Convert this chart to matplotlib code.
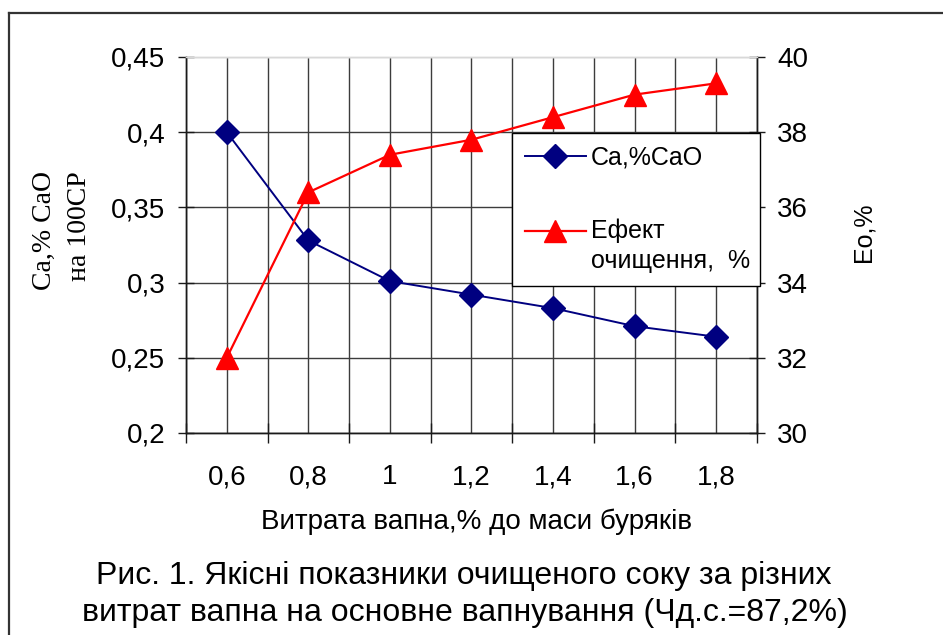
import numpy as np
import matplotlib
matplotlib.use("Agg")
import matplotlib.pyplot as plt
from matplotlib import font_manager as fm
from matplotlib.lines import Line2D
from matplotlib.legend_handler import HandlerLine2D

# ---------------- data ----------------
categories = ["0,6", "0,8", "1", "1,2", "1,4", "1,6", "1,8"]
ca_values = [0.400, 0.328, 0.301, 0.292, 0.283, 0.271, 0.264]
eo_values = [32.0, 36.4, 37.4, 37.8, 38.4, 39.0, 39.3]
left_ticks = [0.2, 0.25, 0.3, 0.35, 0.4, 0.45]
left_tick_labels = ["0,2", "0,25", "0,3", "0,35", "0,4", "0,45"]
right_ticks = [30, 32, 34, 36, 38, 40]
right_tick_labels = ["30", "32", "34", "36", "38", "40"]
ca_label = "Ca,%CaO"
eo_label = "Ефект\nочищення,  %"
xlabel = "Витрата вапна,% до маси буряків"
ylabel_left = ["Ca,% CaO", "на 100СР"]
ylabel_right = "Eo,%"
caption = ["Рис. 1. Якісні показники очищеного соку за різних",
           "витрат вапна на основне вапнування (Чд.с.=87,2%)"]

# ---------------- fonts ----------------
names = {f.name for f in fm.fontManager.ttflist}
NARROW = "Liberation Sans Narrow" if "Liberation Sans Narrow" in names else "Liberation Sans"
SANS = "Liberation Sans"
SERIF = "Liberation Serif"
plt.rcParams["font.family"] = [NARROW, "DejaVu Sans"]

W, H = 943, 635
fig = plt.figure(figsize=(W / 100, H / 100), dpi=100)
fig.patch.set_facecolor("white")

def fx(px):
    return px / W

def fy(py):
    return 1 - py / H

ax_l, ax_r, ax_t, ax_b = 186, 757, 57, 433
ax = fig.add_axes([fx(ax_l), fy(ax_b), fx(ax_r - ax_l), (ax_b - ax_t) / H])
ax2 = ax.twinx()

n = len(categories)
x = np.arange(n)

GRID = "#3c3c3c"
SPINE = "#1a1a1a"

# axes limits / ticks
ax.set_xlim(-0.5, n - 0.5)
ax.set_ylim(left_ticks[0], left_ticks[-1])
ax2.set_ylim(right_ticks[0], right_ticks[-1])

ax.set_xticks(np.arange(n + 1) - 0.5)
ax.set_xticklabels([])
ax.set_xticks(x, minor=True)
ax.set_xticklabels(categories, minor=True)
ax.tick_params(axis="x", which="major", direction="inout", length=15, width=1.0, color=SPINE)
ax.tick_params(axis="x", which="minor", length=0, pad=37, labelsize=20)
for t in ax.get_xticklabels(minor=True):
    t.set_verticalalignment("baseline")

ax.set_yticks(left_ticks)
ax.set_yticklabels(left_tick_labels)
ax.tick_params(axis="y", direction="inout", length=11, width=1.0, color=SPINE, pad=9.5, labelsize=20)
ax.yaxis.set_minor_locator(matplotlib.ticker.NullLocator())

ax2.set_yticks(right_ticks)
ax2.set_yticklabels(right_tick_labels)
ax2.tick_params(axis="y", direction="inout", length=11, width=1.0, color=SPINE, pad=9.0, labelsize=20)

# grid
ax.grid(True, axis="x", which="both", color=GRID, linewidth=1.0)
ax.grid(True, axis="y", which="major", color=GRID, linewidth=1.0)
ax.set_axisbelow(True)
# top gridline light (plot-area border in the original)
for gl, val in zip(ax.yaxis.get_gridlines(), left_ticks):
    if abs(val - left_ticks[-1]) < 1e-9:
        gl.set_color("#d8d8d8")

# spines
for a in (ax, ax2):
    a.spines["top"].set_color("#d8d8d8")
    a.spines["top"].set_linewidth(1.0)
    for s in ("left", "right", "bottom"):
        a.spines[s].set_color(SPINE)
        a.spines[s].set_linewidth(1.0)

# data
l1, = ax.plot(x, ca_values, color="#000080", linewidth=1.4, marker="D",
              markersize=12, markerfacecolor="#000080", markeredgecolor="#000080",
              label=ca_label, zorder=3)
l2, = ax2.plot(x, eo_values, color="#ff0000", linewidth=1.6, marker="^",
               markersize=16, markerfacecolor="#ff0000", markeredgecolor="#ff0000",
               label=eo_label, zorder=3)

# legend (handle of multi-line entry aligned with its first line)
class ShiftedHandler(HandlerLine2D):
    def __init__(self, dy=0.0, **kw):
        super().__init__(**kw)
        self.dy = dy

    def create_artists(self, legend, orig_handle, xdescent, ydescent, width,
                       height, fontsize, trans):
        arts = super().create_artists(legend, orig_handle, xdescent, ydescent,
                                      width, height, fontsize, trans)
        for a in arts:
            a.set_ydata(np.asarray(a.get_ydata()) + self.dy)
        return arts

leg_l, leg_r, leg_t, leg_b = 512, 760, 133, 283
leg = ax2.legend(handles=[l1, l2], labels=[ca_label, eo_label],
                 loc="upper left",
                 bbox_to_anchor=(fx(leg_l), fy(leg_b), fx(leg_r - leg_l), (leg_b - leg_t) / H),
                 bbox_transform=fig.transFigure, mode="expand",
                 borderaxespad=0, borderpad=0.5, labelspacing=1.95,
                 handlelength=2.45, handletextpad=0.2, fontsize=18,
                 fancybox=False, framealpha=1, edgecolor="black",
                 handler_map={l1: ShiftedHandler(dy=0.0), l2: ShiftedHandler(dy=10.8)})
leg.get_frame().set_linewidth(1.0)
for t in leg.get_texts():
    t.set_linespacing(1.33)

# labels
fig.text(fx(477), fy(522), xlabel, ha="center", va="center", fontsize=20, family=NARROW)
fig.text(fx(44), fy(230), ylabel_left[0], ha="center", va="center", rotation=90,
         fontsize=20, family=SERIF)
fig.text(fx(80), fy(226), ylabel_left[1], ha="center", va="center", rotation=90,
         fontsize=20, family=SERIF)
fig.text(fx(863), fy(232), ylabel_right, ha="center", va="center", rotation=90,
         fontsize=18, family=SANS)
fig.text(fx(464), fy(576), caption[0], ha="center", va="center", fontsize=23, family=NARROW)
fig.text(fx(465), fy(613), caption[1], ha="center", va="center", fontsize=23, family=NARROW)

# outer frame (top and left edges visible)
fig.add_artist(Line2D([fx(9), 1.0], [fy(13), fy(13)], transform=fig.transFigure,
                      color="#333333", linewidth=1.6))
fig.add_artist(Line2D([fx(9), fx(9)], [fy(13), 0.0], transform=fig.transFigure,
                      color="#333333", linewidth=1.6))

fig.savefig("out.png", dpi=100, facecolor="white")
